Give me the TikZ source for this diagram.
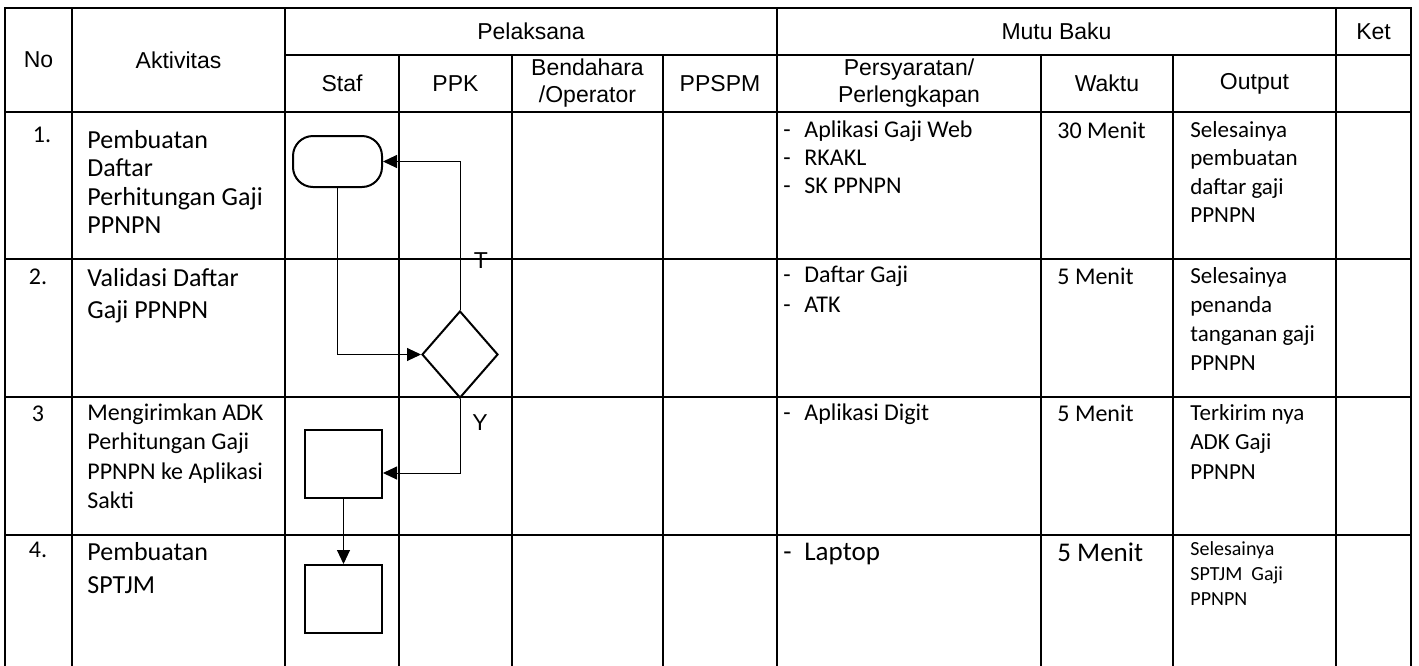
\documentclass[tikz,border=0pt]{standalone}
\usepackage{fontspec}
\setmainfont{Carlito}
\newfontfamily\arialfont{Liberation Sans}
\usetikzlibrary{arrows.meta,shapes.geometric}
\newcommand{\fsz}[2]{\fontsize{#1}{#2}\selectfont}
\newcommand{\itm}[1]{\makebox[10.5pt][l]{-}#1}
\tikzset{
  grid/.style={line width=1pt, line cap=rect},
  hdr/.style={font=\arialfont\fsz{11.5}{13.5}, align=center, inner sep=0pt},
  cell/.style={anchor=north west, align=left, inner sep=0pt},
  num/.style={anchor=north, inner sep=0pt, font=\fsz{12}{14}},
  flowbox/.style={draw, line width=1pt, inner sep=0pt, minimum width=38.5pt, minimum height=34pt},
  flowline/.style={line width=0.5pt, -{Triangle[length=7pt,width=6.5pt]}}
}

\begin{document}
\begin{tikzpicture}[x=0.5pt,y=-0.5pt]
  \useasboundingbox (0,0) rectangle (1419,665);
  % Table lines
  \draw[grid] (5,8) -- (1411,8);
  \draw[grid] (285,55) -- (1411,55);
  \foreach \y in {112,259,397,535} {
    \draw[grid] (5,\y) -- (1411,\y);
  }
  \foreach \x in {5,72,285,777,1336,1411} {
    \draw[grid] (\x,8) -- (\x,665);
  }
  \foreach \x in {399,512,663,1041,1173} {
    \draw[grid] (\x,55) -- (\x,665);
  }

  % Header
  \node[hdr] (hNo) at (38.5,60) {No};
  \node[hdr] (hAkt) at (178.5,60) {Aktivitas};
  \node[hdr] (hPel) at (531,31.5) {Pelaksana};
  \node[hdr] (hMutu) at (1056.5,31.5) {Mutu Baku};
  \node[hdr] (hKet) at (1373.5,31.5) {Ket};
  \node[hdr] (hStaf) at (342,83.5) {Staf};
  \node[hdr] (hPPK) at (455.5,83.5) {PPK};
  \node[hdr] (hBend) at (587.5,83.5) {Bendahara\\/Operator};
  \node[hdr] (hPPSPM) at (720,83.5) {PPSPM};
  \node[hdr] (hSyarat) at (909,83.5) {Persyaratan/\\Perlengkapan};
  \node[hdr] (hWaktu) at (1107,83.5) {Waktu};
  \node[hdr] (hOutput) at (1254.5,83.5) {Output};

  % Row 1
  \node[num] (n1) at (42,127) {1.};
  \node[cell, font=\fsz{13}{14.15}] (a1) at (87,130) {Pembuatan\\Daftar\\Perhitungan Gaji\\PPNPN};
  \node[cell, font=\fsz{12}{14}] (p1) at (783,120) {\itm{Aplikasi Gaji Web}\\\itm{RKAKL}\\\itm{SK PPNPN}};
  \node[cell, font=\fsz{12}{14}] (w1) at (1057,121.5) {30 Menit};
  \node[cell, font=\fsz{11.5}{14.2}] (o1) at (1190,121) {Selesainya\\pembuatan\\daftar gaji\\PPNPN};

  % Row 2
  \node[num] (n2) at (38,269) {2.};
  \node[cell, font=\fsz{13}{16}] (a2) at (87,268) {Validasi Daftar\\Gaji PPNPN};
  \node[cell, font=\fsz{12}{15}] (p2) at (783,266) {\itm{Daftar Gaji}\\\itm{ATK}};
  \node[cell, font=\fsz{12}{14}] (w2) at (1057,267.5) {5 Menit};
  \node[cell, font=\fsz{11.5}{14.5}] (o2) at (1190,267) {Selesainya\\penanda\\tanganan gaji\\PPNPN};

  % Row 3
  \node[num] (n3) at (38,406) {3};
  \node[cell, font=\fsz{12}{14.7}] (a3) at (87,403.5) {Mengirimkan ADK\\Perhitungan Gaji\\PPNPN ke Aplikasi\\Sakti};
  \node[cell, font=\fsz{12}{14}] (p3) at (783,403.5) {\itm{Aplikasi Digit}};
  \node[cell, font=\fsz{12}{14}] (w3) at (1057,404.5) {5 Menit};
  \node[cell, font=\fsz{11.5}{14.75}] (o3) at (1190,404) {Terkirim nya\\ADK Gaji\\PPNPN};

  % Row 4
  \node[num] (n4) at (38,542) {4.};
  \node[cell, font=\fsz{13}{16.5}] (a4) at (87,542) {Pembuatan\\SPTJM};
  \node[cell, font=\fsz{13.5}{15}] (p4) at (783,542.6) {\itm{Laptop}};
  \node[cell, font=\fsz{13.5}{15}] (w4) at (1057,542.6) {5 Menit};
  \node[cell, font=\fsz{10}{12.5}] (o4) at (1190,541) {Selesainya\\SPTJM\ \ Gaji\\PPNPN};

  % Flow
  \node[draw, line width=1pt, rounded corners=10pt, minimum width=44.5pt, minimum height=25.5pt] (mulai) at (337.5,161.5) {};
  \node[draw, diamond, line width=1pt, inner sep=0pt, minimum width=38pt, minimum height=43.5pt] (cek) at (460,354.5) {};
  \node[flowbox] (kirim) at (343.5,464) {};
  \node[flowbox] (sptjm) at (343.5,599) {};
  \draw[flowline] (mulai.south) |- (cek.west);
  \draw[flowline] (cek.north) |- (mulai.east);
  \draw[flowline] (cek.south) |- ([yshift=-4.5pt]kirim.east);
  \draw[flowline] (kirim.south) -- (sptjm.north);
  \node[hdr] (lblT) at (481,261) {T};
  \node[hdr] (lblY) at (480,423) {Y};
\end{tikzpicture}
\end{document}
